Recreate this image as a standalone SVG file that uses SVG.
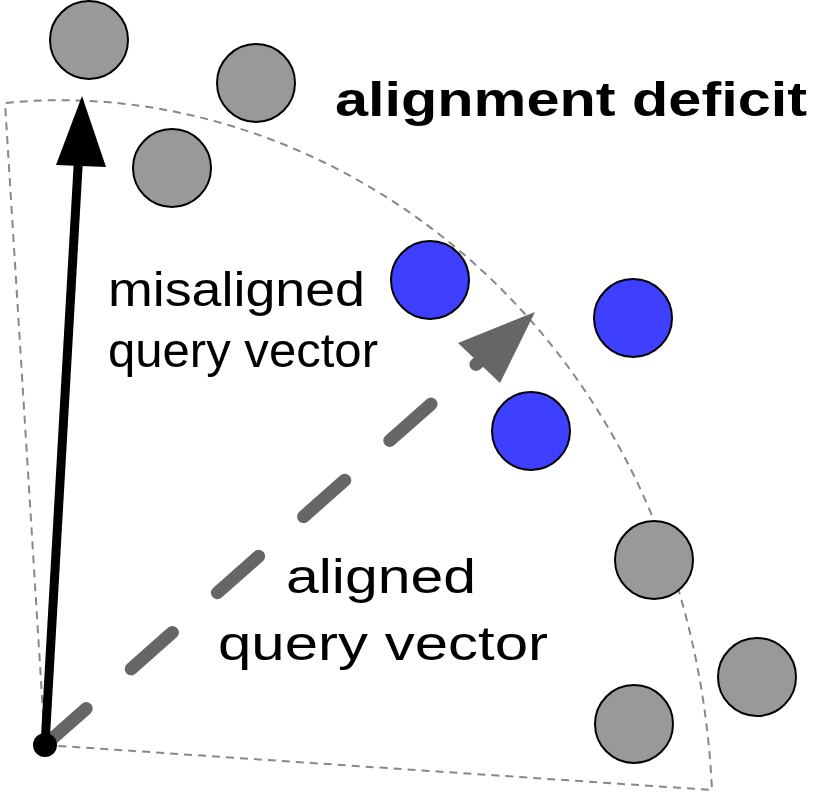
<svg xmlns="http://www.w3.org/2000/svg" width="830" height="804" viewBox="0 0 830 804">
<style>
.g{fill:#999;stroke:#000;stroke-width:2}
.b{fill:#3f3fff;stroke:#000;stroke-width:2}
text{font-family:"Liberation Sans",Arial,sans-serif;font-size:48px;fill:#000}
</style>
<rect width="830" height="804" fill="#fff"/>
<g id="sector" fill="none" stroke="#888" stroke-width="2" stroke-dasharray="8,6">
<path d="M45,745 L5,103 C330,70 690,330 712,790 L45,745"/>
</g>
<g id="points">
<circle class="g" cx="89" cy="40" r="39"/>
<circle class="g" cx="256" cy="83" r="39"/>
<circle class="g" cx="172" cy="168" r="39"/>
<circle class="g" cx="654" cy="560" r="39"/>
<circle class="g" cx="757" cy="677" r="39"/>
<circle class="g" cx="634" cy="724" r="39"/>
<circle class="b" cx="430" cy="280" r="39"/>
<circle class="b" cx="633" cy="318" r="39"/>
<circle class="b" cx="531" cy="431" r="39"/>
</g>
<g id="connectors">
<line x1="45" y1="745" x2="490" y2="352" stroke="#666" stroke-width="13" stroke-linecap="round" stroke-dasharray="55,60"/>
<polygon points="535,312 458,343 500,383" fill="#666"/>
<line x1="45" y1="745" x2="79" y2="150" stroke="#000" stroke-width="9"/>
<polygon points="82,96 56,165 106,167" fill="#000"/>
<circle cx="45" cy="745" r="12" fill="#000"/>
</g>
<g id="labels">
<text x="335" y="116" font-weight="bold" textLength="472" lengthAdjust="spacingAndGlyphs">alignment deficit</text>
<text x="108" y="306" textLength="257" lengthAdjust="spacingAndGlyphs">misaligned</text>
<text x="108" y="367" textLength="270" lengthAdjust="spacingAndGlyphs">query vector</text>
<text x="286" y="593" textLength="190" lengthAdjust="spacingAndGlyphs">aligned</text>
<text x="218" y="660" textLength="330" lengthAdjust="spacingAndGlyphs">query vector</text>
</g>
</svg>
